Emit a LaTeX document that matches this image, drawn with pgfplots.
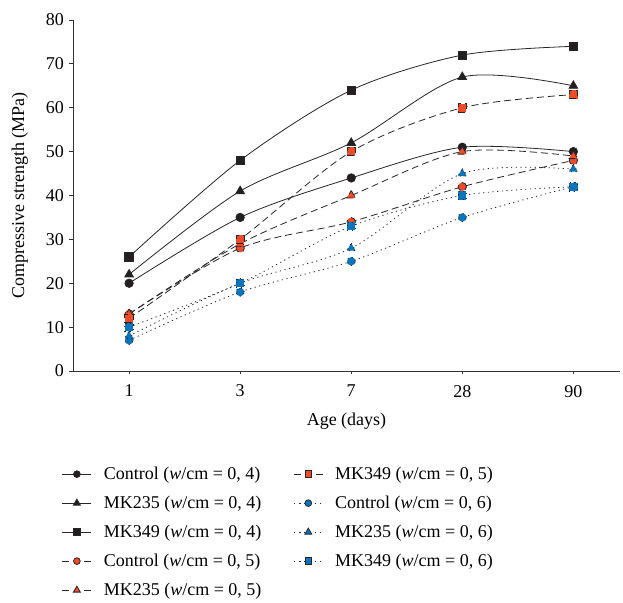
\documentclass[border=0pt]{standalone}
\usepackage{fontspec}
\setmainfont{Liberation Serif}
\usepackage{pgfplots}
\pgfplotsset{compat=1.18}
\definecolor{mblack}{HTML}{231F20}
\definecolor{mred}{HTML}{EE4B2B}
\definecolor{mblue}{HTML}{0A75BC}
\begin{document}
\begin{tikzpicture}[font=\fontsize{18}{21}\selectfont]
\begin{axis}[
  name=ax,
  scale only axis, width=547pt, height=351pt,
  xmin=-0.505, xmax=4.42, ymin=0, ymax=80,
  axis lines*=left, axis line style={-, thick, black!80},
  xtick={0,1,2,3,4}, xticklabels={1,3,7,28,90},
  ytick={0,10,...,80},
  tick align=outside, major tick length=3.5pt,
  tick style={black!80, thick},
  xlabel={Age (days)}, ylabel={Compressive strength (MPa)},
  xticklabel style={yshift=-7pt},
  yticklabel style={xshift=-2pt},
  ylabel style={yshift=11pt},
  xlabel style={yshift=-9pt},
  /pgf/number format/assume math mode=true,
  every axis plot/.append style={smooth, tension=0.5, line width=0.8pt, black!85},
  mark options={solid, draw=black!85, line width=0.6pt},
  legend image code/.code={\draw[mark repeat=2,mark phase=2, every mark/.append style={solid, scale=0.8}] plot coordinates {(0pt,0pt)(14.5pt,0pt)(29pt,0pt)};},
  transpose legend, legend columns=5,
  legend cell align=left,
  legend style={draw=none, fill=none, at={(rel axis cs:-0.026,-0.262)}, anchor=north west,
    row sep=11pt, /tikz/every even column/.append style={column sep=30pt},
    /tikz/every odd column/.append style={column sep=10pt}},
]
% w/cm = 0,4
\addplot[mark=*, mark size=4.2pt, mark options={fill=mblack}] coordinates {(0,20)(1,35)(2,44)(3,51)(4,50)};
\addlegendentry{Control (\textit{w}/cm = 0, 4)}
\addplot[mark=triangle*, mark size=5pt, mark options={fill=mblack}] coordinates {(0,22)(1,41)(2,52)(3,67)(4,65)};
\addlegendentry{MK235 (\textit{w}/cm = 0, 4)}
\addplot[mark=square*, mark size=4.2pt, mark options={fill=mblack}] coordinates {(0,26)(1,48)(2,64)(3,72)(4,74)};
\addlegendentry{MK349 (\textit{w}/cm = 0, 4)}
% w/cm = 0,5
\addplot[dash pattern=on 7pt off 4pt, legend image post style={dash pattern=on 7pt off 15pt}, mark=*, mark size=4.2pt, mark options={fill=mred}] coordinates {(0,13)(1,28)(2,34)(3,42)(4,48)};
\addlegendentry{Control (\textit{w}/cm = 0, 5)}
\addplot[dash pattern=on 7pt off 4pt, legend image post style={dash pattern=on 7pt off 15pt}, mark=triangle*, mark size=5pt, mark options={fill=mred}] coordinates {(0,13)(1,29)(2,40)(3,50)(4,49)};
\addlegendentry{MK235 (\textit{w}/cm = 0, 5)}
\addplot[dash pattern=on 7pt off 4pt, legend image post style={dash pattern=on 7pt off 15pt}, mark=square*, mark size=4.2pt, mark options={fill=mred}] coordinates {(0,12)(1,30)(2,50)(3,60)(4,63)};
\addlegendentry{MK349 (\textit{w}/cm = 0, 5)}
% w/cm = 0,6
\addplot[dash pattern=on 1.2pt off 3.5pt, legend image post style={dash pattern=on 1.2pt off 4pt}, mark=*, mark size=4.2pt, mark options={fill=mblue}] coordinates {(0,7)(1,18)(2,25)(3,35)(4,42)};
\addlegendentry{Control (\textit{w}/cm = 0, 6)}
\addplot[dash pattern=on 1.2pt off 3.5pt, legend image post style={dash pattern=on 1.2pt off 4pt}, mark=triangle*, mark size=5pt, mark options={fill=mblue}] coordinates {(0,8)(1,20)(2,28)(3,45)(4,46)};
\addlegendentry{MK235 (\textit{w}/cm = 0, 6)}
\addplot[dash pattern=on 1.2pt off 3.5pt, legend image post style={dash pattern=on 1.2pt off 4pt}, mark=square*, mark size=4.2pt, mark options={fill=mblue}] coordinates {(0,10)(1,20)(2,33)(3,40)(4,42)};
\addlegendentry{MK349 (\textit{w}/cm = 0, 6)}
\end{axis}
\pgfresetboundingbox
\path (ax.south west) ++(-73pt,-232pt) coordinate (bl);
\path (ax.north east) ++(3pt,20pt) coordinate (tr);
\path[use as bounding box] (bl) rectangle (tr);
\end{tikzpicture}
\end{document}
